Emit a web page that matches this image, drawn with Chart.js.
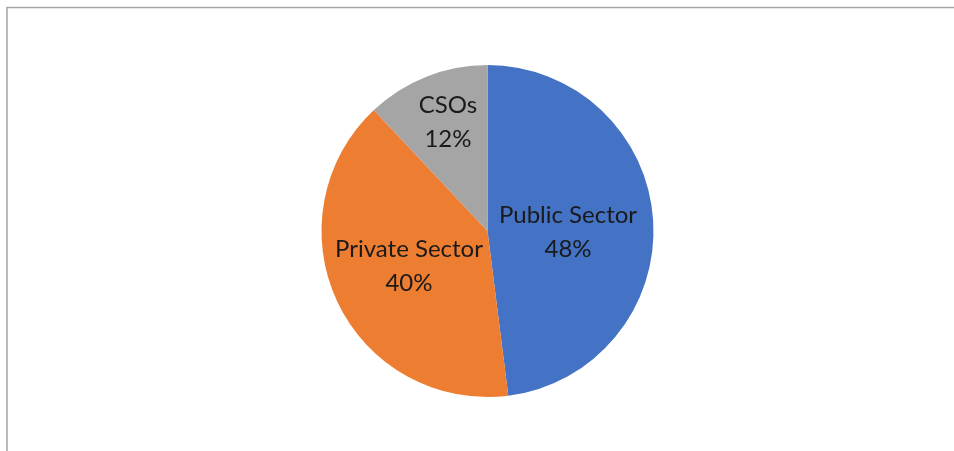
<!DOCTYPE html>
<html>
<head>
<meta charset="utf-8">
<script src="https://cdn.jsdelivr.net/npm/chart.js@4/dist/chart.umd.min.js"></script>
<style>
  html, body { margin: 0; padding: 0; background: #ffffff; }
  #wrap { position: relative; width: 954px; height: 451px; }
</style>
</head>
<body>
<div id="wrap"><canvas id="c" width="954" height="451"></canvas></div>
<script>
// Share of actors by sector
const categories = ['Public Sector', 'Private Sector', 'CSOs'];
const shares = [48, 40, 12];
const sliceColors = ['#4472C4', '#ED7D31', '#A5A5A5'];

// Label anchor for each slice, as [x, y] offsets from the pie centre in units of the radius
const labelOffset = [[0.485, 0.006], [-0.473, 0.211], [-0.238, -0.657]];

const frame = {
  id: 'frame',
  beforeDraw(chart) {
    const ctx = chart.ctx;
    ctx.save();
    ctx.strokeStyle = '#a6a6a6';
    ctx.lineWidth = 1.5;
    ctx.beginPath();
    ctx.moveTo(7, 451);
    ctx.lineTo(7, 7.5);
    ctx.lineTo(954, 7.5);
    ctx.stroke();
    ctx.restore();
  }
};

const sliceLabels = {
  id: 'sliceLabels',
  afterDatasetsDraw(chart) {
    const ctx = chart.ctx;
    const meta = chart.getDatasetMeta(0);
    ctx.save();
    ctx.fillStyle = '#1a1a1a';
    ctx.font = '24px Lato, "Open Sans", sans-serif';
    ctx.textAlign = 'center';
    ctx.textBaseline = 'middle';
    meta.data.forEach((arc, i) => {
      const p = arc.getProps(['x', 'y', 'outerRadius'], true);
      const cx = p.x + labelOffset[i][0] * p.outerRadius;
      const cy = p.y + labelOffset[i][1] * p.outerRadius;
      ctx.fillText(categories[i], cx, cy - 17);
      ctx.fillText(shares[i] + '%', cx, cy + 17);
    });
    ctx.restore();
  }
};

new Chart(document.getElementById('c'), {
  type: 'pie',
  data: {
    labels: categories,
    datasets: [{
      data: shares,
      backgroundColor: sliceColors,
      borderWidth: 0
    }]
  },
  options: {
    responsive: false,
    animation: false,
    layout: { padding: { top: 65, bottom: 54, left: 21, right: 0 } },
    plugins: {
      legend: { display: false },
      tooltip: { enabled: false }
    }
  },
  plugins: [frame, sliceLabels]
});
</script>
</body>
</html>
